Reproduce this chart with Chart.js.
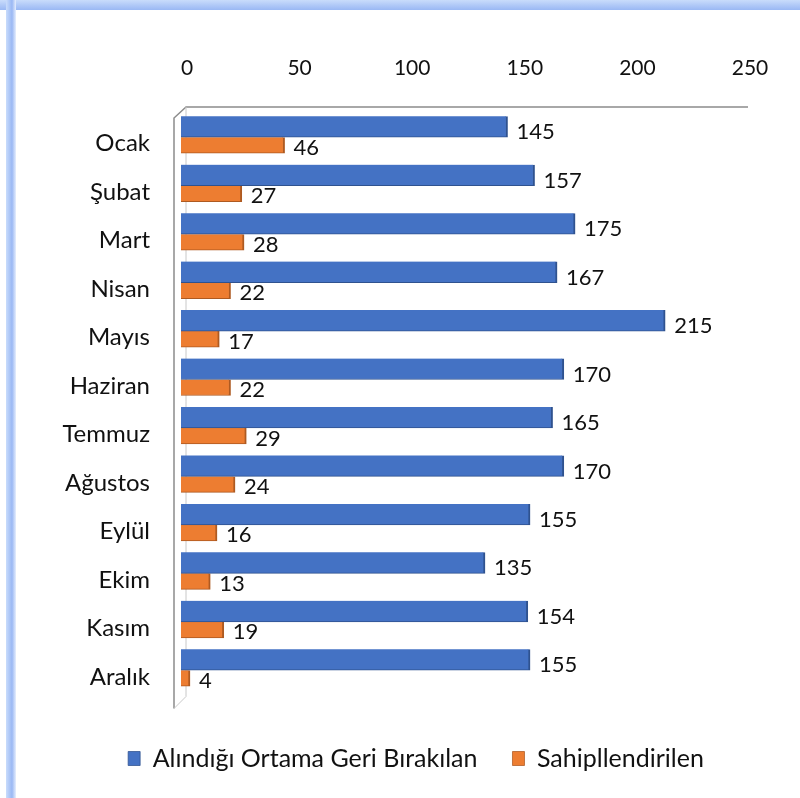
<!DOCTYPE html>
<html>
<head>
<meta charset="utf-8">
<script src="https://cdn.jsdelivr.net/npm/chart.js@4.4.1/dist/chart.umd.min.js"></script>
<style>
  html, body { margin: 0; padding: 0; background: #fff; }
  body { width: 800px; height: 798px; overflow: hidden; position: relative; }
  #frameTop { position: absolute; left: 0; top: 0; width: 800px; height: 10px; background: linear-gradient(#c9dcfb, #9ab8f4); }
  #frameLeft { position: absolute; left: 6px; top: 0; width: 10px; height: 798px; background: linear-gradient(90deg, #c9dcfb, #9ab8f4 60%, #e6eefd); }
  #wrap { position: absolute; left: 0; top: 0; width: 800px; height: 798px; }
</style>
</head>
<body>
<div id="frameTop"></div>
<div id="frameLeft"></div>
<div id="wrap"><canvas id="c" width="800" height="798"></canvas></div>
<script>
const categories = ["Ocak", "Şubat", "Mart", "Nisan", "Mayıs", "Haziran", "Temmuz", "Ağustos", "Eylül", "Ekim", "Kasım", "Aralık"];
const seriesNames = ["Alındığı Ortama Geri Bırakılan", "Sahipllendirilen"];
const released = [145, 157, 175, 167, 215, 170, 165, 170, 155, 135, 154, 155];
const adopted = [46, 27, 28, 22, 17, 22, 29, 24, 16, 13, 19, 4];
const xTicks = [0, 50, 100, 150, 200, 250];

const FONT = "Lato, 'Open Sans', sans-serif";

const valueLabels = {
  id: 'valueLabels',
  afterDatasetsDraw(chart) {
    const ctx = chart.ctx;
    ctx.save();
    ctx.font = "22px " + FONT;
    ctx.fillStyle = "#111";
    ctx.textAlign = "left";
    ctx.textBaseline = "middle";
    chart.data.datasets.forEach((ds, i) => {
      const meta = chart.getDatasetMeta(i);
      meta.data.forEach((bar, j) => {
        ctx.fillText(String(ds.data[j]), bar.x + 9, bar.y + (i === 0 ? 5.5 : 2.5));
      });
    });
    ctx.restore();
  }
};

const frame3d = {
  id: 'frame3d',
  beforeDatasetsDraw(chart) {
    const { ctx, chartArea: a } = chart;
    ctx.save();
    ctx.strokeStyle = "#8c8c8c";
    ctx.lineWidth = 1.5;
    ctx.beginPath();
    ctx.moveTo(a.left - 7, a.bottom + 14);
    ctx.lineTo(a.left - 7, a.top + 5);
    ctx.lineTo(a.left + 5, a.top - 6);
    ctx.lineTo(a.right + 4, a.top - 6);
    ctx.stroke();
    ctx.strokeStyle = "#c8c8c8";
    ctx.lineWidth = 1;
    ctx.beginPath();
    ctx.moveTo(a.left + 5, a.top - 6);
    ctx.lineTo(a.left + 5, a.bottom + 2);
    ctx.lineTo(a.left - 7, a.bottom + 14);
    ctx.stroke();
    ctx.restore();
  }
};

const legendShift = {
  id: 'legendShift',
  afterLayout(chart) {
    const lg = chart.legend;
    if (lg) { lg.left += 44; lg.right += 44; }
  }
};

new Chart(document.getElementById('c'), {
  type: 'bar',
  data: {
    labels: categories,
    datasets: [
      { label: seriesNames[0], data: released, backgroundColor: '#4472C4', borderColor: '#2f528f', borderWidth: { right: 2, bottom: 1 }, borderSkipped: false, barThickness: 21 },
      { label: seriesNames[1], data: adopted, backgroundColor: '#ED7D31', borderColor: '#ae5a21', borderWidth: { right: 2, bottom: 1 }, borderSkipped: false, barThickness: 16 }
    ]
  },
  options: {
    indexAxis: 'y',
    responsive: false,
    animation: false,
    devicePixelRatio: 1,
    layout: { padding: { left: 0, right: 56, top: 50, bottom: 17 } },
    datasets: { bar: { categoryPercentage: 0.82, barPercentage: 1 } },
    scales: {
      x: {
        position: 'top',
        min: 0, max: 250,
        afterBuildTicks(s) { s.ticks = xTicks.map(v => ({ value: v })); },
        grid: { display: false, drawTicks: false },
        border: { display: false },
        ticks: { font: { size: 21, family: FONT }, color: '#111', padding: 32, labelOffset: 6 },
        afterFit(s) { s.height = 63; }
      },
      y: {
        grid: { display: false, drawTicks: false },
        border: { display: false },
        ticks: { font: { size: 24, family: FONT }, color: '#111', padding: 31, labelOffset: 6.5 },
        afterFit(s) { s.width = 181; }
      }
    },
    plugins: {
      legend: {
        position: 'bottom',
        title: { display: true, text: '', padding: { top: 0, bottom: 4.5 }, font: { size: 10 } },
        labels: { font: { size: 25, family: FONT }, color: '#111', boxWidth: 12, boxHeight: 14, padding: 35, useBorderRadius: false }
      },
      tooltip: { enabled: false }
    }
  },
  plugins: [frame3d, valueLabels, legendShift]
});
</script>
</body>
</html>
